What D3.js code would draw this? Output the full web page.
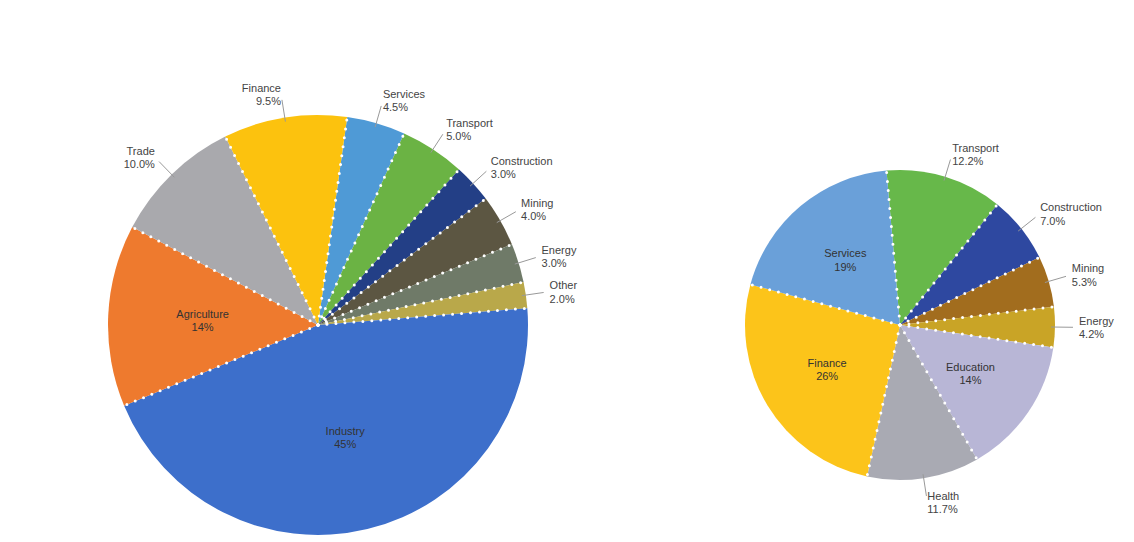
<!DOCTYPE html>
<meta charset="utf-8">
<body style="margin:0;background:#fff">
<script src="https://d3js.org/d3.v7.min.js"></script>
<script>
var width = 1134, height = 542;

// left pie, clockwise starting at the light blue slice
var leftNames = ["Services", "Transport", "Construction", "Mining", "Energy", "Other", "Industry", "Agriculture", "Trade", "Finance"];
var leftValues = [4.5, 5, 3, 4, 3, 2, 45, 14, 10, 9.5];
var leftColors = ["#4f9ad6", "#6bb344", "#233f86", "#5c5642", "#6f7a68", "#b9a84a", "#3d6fcb", "#ee7a2e", "#a9a9ad", "#fcc20e"];
var leftInside = ["no", "no", "no", "no", "no", "no", "yes", "yes", "no", "no"];

// right pie, clockwise starting at the green slice
var rightNames = ["Transport", "Construction", "Mining", "Energy", "Education", "Health", "Finance", "Services"];
var rightValues = [12.2, 7, 5.3, 4.2, 14.4, 11.7, 25.8, 19.4];
var rightColors = ["#67b84a", "#2e48a0", "#a26d1e", "#c9a426", "#b8b6d6", "#a9aab3", "#fcc41a", "#6aa0d9"];
var rightInside = ["no", "no", "no", "no", "yes", "no", "yes", "yes"];

var svg = d3.select("body").append("svg")
    .attr("width", width)
    .attr("height", height)
    .style("font-family", "Liberation Sans, Arial, sans-serif");

var deg = Math.PI / 180;

drawPie(leftNames, leftValues, leftColors, leftInside, 318, 325, 210, 8);
drawPie(rightNames, rightValues, rightColors, rightInside, 900, 325, 155, -5);

function drawPie(names, values, colors, inside, cx, cy, r, start) {
    var data = names.map(function (n, i) {
        return {name: n, value: values[i], color: colors[i], inside: inside[i] === "yes"};
    });
    var pie = d3.pie().sort(null).value(d => d.value)
        .startAngle(start * deg).endAngle((start + 360) * deg);
    var arcs = pie(data);
    var arc = d3.arc().innerRadius(0).outerRadius(r);
    var labelArc = d3.arc().innerRadius(r * 0.55).outerRadius(r * 0.55);
    var total = d3.sum(values);

    var g = svg.append("g").attr("transform", `translate(${cx},${cy})`);

    g.selectAll("path.slice")
        .data(arcs)
        .enter().append("path")
        .attr("class", "slice")
        .attr("d", arc)
        .attr("fill", d => d.data.color);

    // dotted white separators along the radial edges
    g.selectAll("line.sep")
        .data(arcs)
        .enter().append("line")
        .attr("class", "sep")
        .attr("x1", 0).attr("y1", 0)
        .attr("x2", d => Math.sin(d.startAngle) * r)
        .attr("y2", d => -Math.cos(d.startAngle) * r)
        .attr("stroke", "#fff")
        .attr("stroke-width", 3)
        .attr("stroke-linecap", "round")
        .attr("stroke-dasharray", "0,9");

    // labels inside the big slices
    var inner = g.selectAll("text.inner")
        .data(arcs.filter(d => d.data.inside))
        .enter().append("text")
        .attr("class", "inner")
        .attr("transform", d => `translate(${labelArc.centroid(d)})`)
        .attr("text-anchor", "middle")
        .attr("font-size", 11)
        .attr("fill", "#333");
    inner.append("tspan").attr("x", 0).attr("dy", "-0.2em").text(d => d.data.name);
    inner.append("tspan").attr("x", 0).attr("dy", "1.2em")
        .text(d => Math.round(d.data.value / total * 100) + "%");

    // outside labels with leader lines
    var outer = arcs.filter(d => !d.data.inside);
    function mid(d) { return (d.startAngle + d.endAngle) / 2; }

    g.selectAll("line.lead")
        .data(outer)
        .enter().append("line")
        .attr("class", "lead")
        .attr("x1", d => Math.sin(mid(d)) * (r - 4))
        .attr("y1", d => -Math.cos(mid(d)) * (r - 4))
        .attr("x2", d => Math.sin(mid(d)) * (r + 18))
        .attr("y2", d => -Math.cos(mid(d)) * (r + 18))
        .attr("stroke", "#999")
        .attr("stroke-width", 1);

    var out = g.selectAll("text.outer")
        .data(outer)
        .enter().append("text")
        .attr("class", "outer")
        .attr("transform", function (d) {
            var a = mid(d);
            return `translate(${Math.sin(a) * (r + 24)},${-Math.cos(a) * (r + 24)})`;
        })
        .attr("text-anchor", d => Math.sin(mid(d)) >= 0 ? "start" : "end")
        .attr("font-size", 11)
        .attr("fill", "#444");
    out.append("tspan").attr("x", 0).attr("dy", "-0.2em").text(d => d.data.name);
    out.append("tspan").attr("x", 0).attr("dy", "1.2em")
        .text(d => (d.data.value / total * 100).toFixed(1) + "%");
}
</script>
</body>
